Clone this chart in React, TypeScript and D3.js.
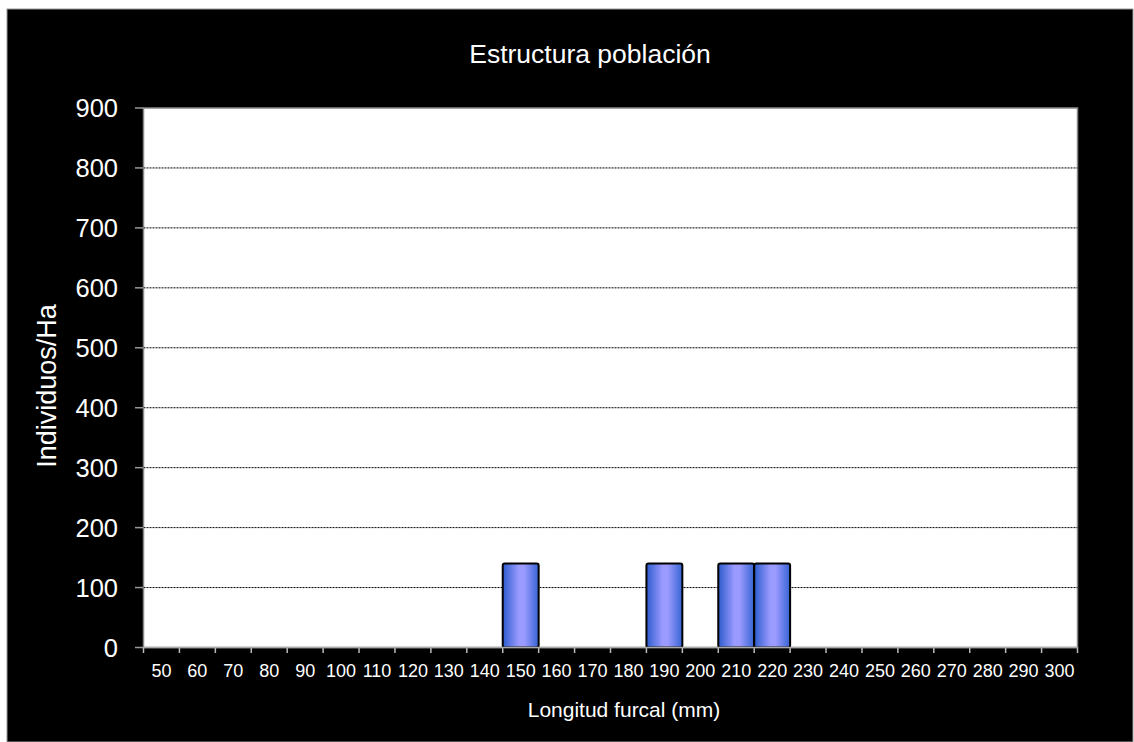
import { scaleBand, scaleLinear } from "d3";

const categories = [
  "50", "60", "70", "80", "90", "100", "110", "120", "130", "140", "150", "160", "170",
  "180", "190", "200", "210", "220", "230", "240", "250", "260", "270", "280", "290", "300"
];
const values = [
  0, 0, 0, 0, 0, 0, 0, 0, 0, 0, 140, 0, 0,
  0, 140, 0, 140, 140, 0, 0, 0, 0, 0, 0, 0, 0
];
const yTicks = [0, 100, 200, 300, 400, 500, 600, 700, 800, 900];

const title = "Estructura población";
const yTitle = "Individuos/Ha";
const xTitle = "Longitud furcal (mm)";

export default function App() {
  const width = 1134;
  const height = 742;
  const plot = { left: 143.5, right: 1077.5, top: 108, bottom: 647.5 };

  const x = scaleBand<string>().domain(categories).range([plot.left, plot.right]).padding(0);
  const y = scaleLinear().domain([0, 900]).range([plot.bottom, plot.top]);
  const bw = x.bandwidth();
  const font = "Arial, 'Liberation Sans', sans-serif";

  return (
    <div style={{ position: "absolute", left: 0, top: 0 }}>
      <svg width={width} height={height} style={{ display: "block", fontFamily: font }}>
        <defs>
          <linearGradient id="barFill" x1="0" x2="1" y1="0" y2="0">
            <stop offset="0" stopColor="#2c5ccc" />
            <stop offset="0.45" stopColor="#9a9aff" />
            <stop offset="0.6" stopColor="#9a9aff" />
            <stop offset="1" stopColor="#3564d4" />
          </linearGradient>
        </defs>
        <rect x={0} y={0} width={width} height={height} fill="#fff" />
        <rect x={7} y={9} width={width - 8} height={height - 9} fill="#000" stroke="#999" strokeWidth={1} />

        <text x={590} y={63} fill="#fff" fontSize={26.5} textAnchor="middle">
          {title}
        </text>

        <rect x={plot.left} y={plot.top} width={plot.right - plot.left} height={plot.bottom - plot.top} fill="#fff" stroke="#888" strokeWidth={1.5} />

        {yTicks.map((t) => (
          <g key={t}>
            {t > 0 && t < 900 ? (
              <line x1={plot.left} x2={plot.right} y1={y(t)} y2={y(t)} stroke="#000" strokeWidth={1} strokeDasharray="2 1" />
            ) : null}
            <line x1={135} x2={plot.left} y1={y(t)} y2={y(t)} stroke="#999" strokeWidth={1.5} />
            <text x={118} y={y(t) + 9} fill="#fff" fontSize={25.5} textAnchor="end">
              {t}
            </text>
          </g>
        ))}

        {categories.map((c, i) => (
          <g key={c}>
            <line x1={(x(c) ?? 0)} x2={(x(c) ?? 0)} y1={plot.bottom} y2={plot.bottom + 5.5} stroke="#bbb" strokeWidth={1.5} />
            {i === categories.length - 1 ? (
              <line x1={plot.right} x2={plot.right} y1={plot.bottom} y2={plot.bottom + 5.5} stroke="#bbb" strokeWidth={1.5} />
            ) : null}
            <text x={(x(c) ?? 0) + bw / 2} y={677} fill="#fff" fontSize={18} textAnchor="middle">
              {c}
            </text>
          </g>
        ))}

        {categories.map((c, i) =>
          values[i] > 0 ? (
            <rect
              key={c}
              x={x(c) ?? 0}
              y={y(values[i])}
              width={bw}
              height={plot.bottom - y(values[i])}
              rx={2}
              fill="url(#barFill)"
              stroke="#000"
              strokeWidth={2}
            />
          ) : null
        )}

        <line x1={plot.left} x2={plot.right} y1={plot.bottom} y2={plot.bottom} stroke="#aaa" strokeWidth={1.5} />

        <text transform={`translate(56, 386) rotate(-90)`} fill="#fff" fontSize={27} textAnchor="middle">
          {yTitle}
        </text>
        <text x={624} y={717} fill="#fff" fontSize={21} textAnchor="middle">
          {xTitle}
        </text>
      </svg>
    </div>
  );
}
